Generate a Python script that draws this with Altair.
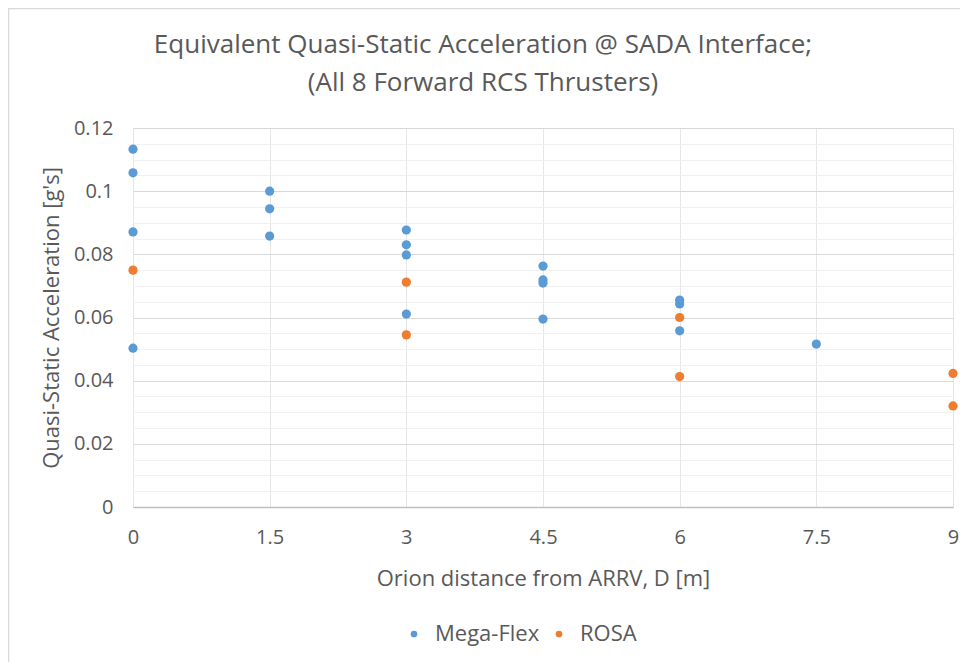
import altair as alt
import pandas as pd

# Data
mega_x = [0, 0, 0, 0, 1.5, 1.5, 1.5, 3, 3, 3, 3, 4.5, 4.5, 4.5, 4.5, 6, 6, 6, 7.5]
mega_y = [0.1133, 0.1058, 0.0871, 0.0503, 0.1000, 0.0944, 0.0858,
          0.0877, 0.0830, 0.0798, 0.0611, 0.0763, 0.0719, 0.0709, 0.0595,
          0.0655, 0.0643, 0.0558, 0.0516]
rosa_x = [0, 3, 3, 6, 6, 9, 9]
rosa_y = [0.0750, 0.0712, 0.0545, 0.0600, 0.0413, 0.0423, 0.0320]

series_names = ["Mega-Flex", "ROSA"]
series_colors = ["#5B9BD5", "#ED7D31"]
x_ticks = [0, 1.5, 3, 4.5, 6, 7.5, 9]
y_ticks = [round(i * 0.005, 3) for i in range(25)]

df = pd.DataFrame({
    "D": mega_x + rosa_x,
    "acc": mega_y + rosa_y,
    "series": [series_names[0]] * len(mega_x) + [series_names[1]] * len(rosa_x),
})

FONT = "Open Sans"
GRAY = "#595959"
major = "abs(datum.value*50 - round(datum.value*50)) < 0.001"

points = alt.Chart(df).mark_circle(size=85, opacity=1).encode(
    x=alt.X("D:Q", title="Orion distance from ARRV, D [m]",
            scale=alt.Scale(domain=[0, 9], nice=False, zero=False),
            axis=alt.Axis(values=x_ticks, labelExpr="toString(datum.value)",
                          grid=True, gridColor="#e6e6e6", ticks=False, labelFlush=False,
                          domainColor="#bfbfbf", domainWidth=1.5,
                          labelPadding=20, titlePadding=21,
                          labelFontSize=20, titleFontSize=22,
                          labelColor=GRAY, titleColor=GRAY,
                          labelFont=FONT, titleFont=FONT, titleFontWeight="normal")),
    y=alt.Y("acc:Q", title="Quasi-Static Acceleration [g's]",
            scale=alt.Scale(domain=[0, 0.12], nice=False),
            axis=alt.Axis(values=y_ticks,
                          labelExpr=f"{major} ? toString(round(datum.value*100)/100) : ''",
                          grid=True,
                          gridColor=alt.condition(major, alt.value("#d9d9d9"), alt.value("#f0f0f0")),
                          domain=False, ticks=False, labelPadding=20, titlePadding=10,
                          labelFontSize=20, titleFontSize=22,
                          labelColor=GRAY, titleColor=GRAY,
                          labelFont=FONT, titleFont=FONT, titleFontWeight="normal")),
    color=alt.Color("series:N", scale=alt.Scale(domain=series_names, range=series_colors),
                    legend=alt.Legend(title=None, orient="none", direction="horizontal",
                                      legendX=270, legendY=495, symbolType="circle",
                                      symbolSize=45, labelFontSize=22, labelColor=GRAY,
                                      labelFont=FONT, columnPadding=8, labelOffset=10,
                                      symbolOffset=0)),
)

border = alt.Chart(pd.DataFrame({"a": [0]})).mark_rect(
    fill=None, stroke="#d9d9d9", strokeWidth=1.5
).encode(x=alt.value(-124.5), x2=alt.value(840), y=alt.value(-119.5), y2=alt.value(560))

chart = alt.layer(border, points).properties(
    width=820, height=379,
    title=alt.TitleParams(
        ["Equivalent Quasi-Static Acceleration @ SADA Interface;", "(All 8 Forward RCS Thrusters)"],
        fontSize=26, font=FONT, fontWeight="normal", color=GRAY, lineHeight=38,
        anchor="middle", dx=-60, offset=0, dy=88),
    autosize=alt.AutoSizeParams(type="none"),
    padding={"left": 125, "top": 120, "right": 7, "bottom": 155},
).configure_view(stroke=None).configure(background="white")

chart.save("out.html", embed_options={"renderer": "svg", "actions": False})
